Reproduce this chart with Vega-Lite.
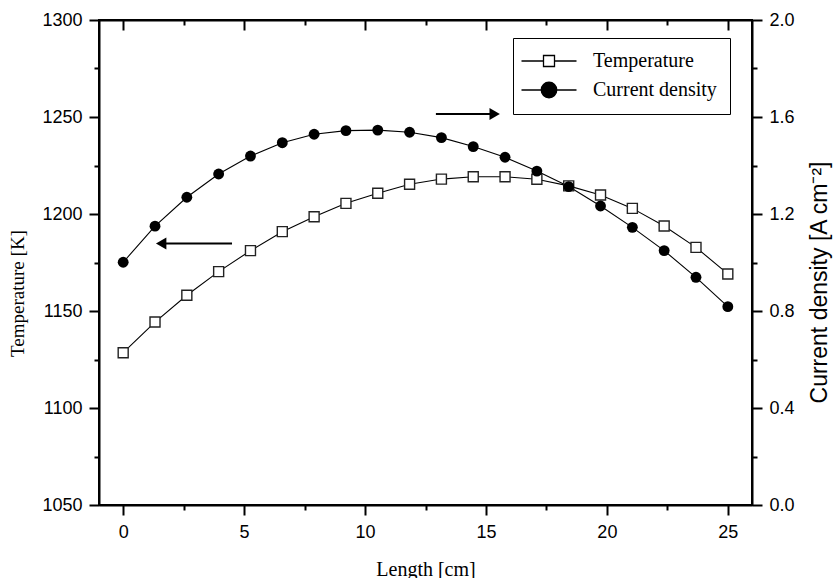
{
  "$schema": "https://vega.github.io/schema/vega-lite/v6.json",
  "width": 653,
  "height": 485,
  "autosize": {"type": "none"},
  "padding": {"left": 99, "top": 20, "right": 84, "bottom": 73},
  "background": "white",
  "config": {
    "view": {"stroke": "black", "strokeWidth": 2},
    "font": "Liberation Sans",
    "axis": {
      "grid": false,
      "domainColor": "black",
      "domainWidth": 2,
      "tickColor": "black",
      "tickWidth": 2,
      "labelColor": "black",
      "titleColor": "black",
      "labelFont": "Liberation Sans",
      "labelFontSize": 18,
      "titleFontWeight": "normal",
      "labelOverlap": false,
      "labelFlush": false
    }
  },
  "datasets": {
    "profile": [
      {"length": 0, "Temperature": 1128.5, "Current density": 1.001},
      {"length": 1.316, "Temperature": 1144.3, "Current density": 1.150},
      {"length": 2.632, "Temperature": 1158.1, "Current density": 1.269},
      {"length": 3.947, "Temperature": 1170.3, "Current density": 1.365},
      {"length": 5.263, "Temperature": 1181.1, "Current density": 1.439},
      {"length": 6.579, "Temperature": 1190.9, "Current density": 1.494},
      {"length": 7.895, "Temperature": 1198.6, "Current density": 1.529},
      {"length": 9.211, "Temperature": 1205.5, "Current density": 1.544},
      {"length": 10.526, "Temperature": 1210.7, "Current density": 1.546},
      {"length": 11.842, "Temperature": 1215.3, "Current density": 1.537},
      {"length": 13.158, "Temperature": 1218.0, "Current density": 1.515},
      {"length": 14.474, "Temperature": 1219.2, "Current density": 1.478},
      {"length": 15.789, "Temperature": 1219.2, "Current density": 1.434},
      {"length": 17.105, "Temperature": 1217.9, "Current density": 1.377},
      {"length": 18.421, "Temperature": 1214.5, "Current density": 1.313},
      {"length": 19.737, "Temperature": 1209.8, "Current density": 1.233},
      {"length": 21.053, "Temperature": 1202.9, "Current density": 1.145},
      {"length": 22.368, "Temperature": 1193.8, "Current density": 1.049},
      {"length": 23.684, "Temperature": 1182.8, "Current density": 0.939},
      {"length": 25, "Temperature": 1169.1, "Current density": 0.818}
    ],
    "arrows": [
      {"name": "left", "x_start": 4.5, "x_end": 1.57, "T": 1184.8},
      {"name": "right", "x_start": 12.93, "x_end": 15.36, "T": 1251.5}
    ]
  },
  "layer": [
    {
      "data": {"name": "profile"},
      "mark": {"type": "line", "color": "black", "strokeWidth": 1.1},
      "encoding": {
        "x": {
          "field": "length", "type": "quantitative",
          "scale": {"domain": [-1, 26], "nice": false, "zero": false},
          "axis": {
            "orient": "bottom",
            "values": [0, 2.5, 5, 7.5, 10, 12.5, 15, 17.5, 20, 22.5, 25],
            "tickSize": {"condition": {"test": "datum.value % 5 === 0", "value": 10}, "value": 5},
            "labelExpr": "datum.value % 5 === 0 ? datum.label : ''",
            "labelPadding": 8,
            "title": "Length [cm]",
            "titleFont": "Liberation Serif",
            "titleFontSize": 20,
            "titleY": 70,
            "titleBaseline": "alphabetic"
          }
        },
        "y": {
          "field": "Temperature", "type": "quantitative",
          "scale": {"domain": [1050, 1300], "nice": false, "zero": false},
          "axis": {
            "orient": "left",
            "values": [1050, 1075, 1100, 1125, 1150, 1175, 1200, 1225, 1250, 1275, 1300],
            "tickSize": {"condition": {"test": "datum.value % 50 === 0", "value": 10}, "value": 5},
            "labelExpr": "datum.value % 50 === 0 ? datum.label : ''",
            "format": "d",
            "labelPadding": 7,
            "title": "Temperature [K]",
            "titleFont": "Liberation Serif",
            "titleFontSize": 19,
            "titleAngle": 270,
            "titleX": -76,
            "titleY": 273,
            "titleAlign": "center",
            "titleBaseline": "alphabetic"
          }
        }
      }
    },
    {
      "data": {"name": "profile"},
      "mark": {"type": "line", "color": "black", "strokeWidth": 1.1},
      "encoding": {
        "x": {"field": "length", "type": "quantitative", "scale": {"domain": [-1, 26], "nice": false, "zero": false}, "axis": null},
        "y": {
          "field": "Current density", "type": "quantitative",
          "scale": {"domain": [0, 2], "nice": false, "zero": false},
          "axis": {
            "orient": "right",
            "values": [0, 0.2, 0.4, 0.6, 0.8, 1.0, 1.2, 1.4, 1.6, 1.8, 2.0],
            "tickSize": {"condition": {"test": "round(datum.value * 10) % 4 === 0", "value": 10}, "value": 5},
            "format": ".1f",
            "labelExpr": "round(datum.value * 10) % 4 === 0 ? datum.label : ''",
            "labelPadding": 7,
            "title": "Current density [A cm⁻²]",
            "titleFont": "Liberation Sans",
            "titleFontSize": 23,
            "titleAngle": 270,
            "titleX": 74,
            "titleY": 262,
            "titleAlign": "center",
            "titleBaseline": "alphabetic"
          }
        }
      }
    },
    {
      "data": {"name": "profile"},
      "mark": {"type": "point", "shape": "square", "filled": true, "fill": "white", "stroke": "#222222", "strokeWidth": 1.4, "size": 100, "opacity": 1},
      "encoding": {
        "x": {
          "field": "length", "type": "quantitative",
          "scale": {"domain": [-1, 26], "nice": false, "zero": false},
          "axis": {
            "orient": "top",
            "values": [0, 2.5, 5, 7.5, 10, 12.5, 15, 17.5, 20, 22.5, 25],
            "tickSize": {"condition": {"test": "datum.value % 5 === 0", "value": -10}, "value": -5},
            "labels": false,
            "title": null
          }
        },
        "y": {"field": "Temperature", "type": "quantitative", "scale": {"domain": [1050, 1300], "nice": false, "zero": false}, "axis": null}
      }
    },
    {
      "data": {"name": "profile"},
      "mark": {"type": "point", "shape": "circle", "filled": true, "fill": "black", "stroke": null, "size": 118, "opacity": 1},
      "encoding": {
        "x": {"field": "length", "type": "quantitative", "scale": {"domain": [-1, 26], "nice": false, "zero": false}, "axis": null},
        "y": {"field": "Current density", "type": "quantitative", "scale": {"domain": [0, 2], "nice": false, "zero": false}, "axis": null}
      }
    },
    {
      "data": {"name": "arrows"},
      "mark": {"type": "rule", "color": "black", "strokeWidth": 2},
      "encoding": {
        "x": {"field": "x_start", "type": "quantitative", "scale": {"domain": [-1, 26], "nice": false, "zero": false}, "axis": null},
        "x2": {"field": "x_end"},
        "y": {"field": "T", "type": "quantitative", "scale": {"domain": [1050, 1300], "nice": false, "zero": false}, "axis": null}
      }
    },
    {
      "data": {"name": "arrows"},
      "mark": {"type": "point", "filled": true, "fill": "black", "stroke": null, "size": 144, "opacity": 1},
      "encoding": {
        "x": {"field": "x_end", "type": "quantitative", "scale": {"domain": [-1, 26], "nice": false, "zero": false}, "axis": null},
        "y": {"field": "T", "type": "quantitative", "scale": {"domain": [1050, 1300], "nice": false, "zero": false}, "axis": null},
        "shape": {"condition": {"test": "datum.name === 'left'", "value": "triangle-left"}, "value": "triangle-right"}
      }
    },
    {
      "data": {"name": "profile"},
      "transform": [{"fold": ["Temperature", "Current density"], "as": ["series", "value"]}],
      "mark": {"type": "point", "filled": true, "stroke": "black", "strokeWidth": 1.3, "opacity": 0},
      "encoding": {
        "x": {"field": "length", "type": "quantitative", "scale": {"domain": [-1, 26], "nice": false, "zero": false}, "axis": null},
        "y": {"field": "value", "type": "quantitative", "scale": {"domain": [0, 3000], "nice": false, "zero": false}, "axis": null},
        "shape": {
          "field": "series", "type": "nominal",
          "scale": {
            "domain": ["Temperature", "Current density"],
            "range": [
              "M-5.5,0H-1.1M1.1,0H5.5M-1.1,-1.1H1.1V1.1H-1.1Z",
              "M-5.5,0H-1.55M1.55,0H5.5M1.55,0A1.55,1.55,0,1,1,-1.55,0A1.55,1.55,0,1,1,1.55,0Z"
            ]
          },
          "legend": {
            "orient": "none", "legendX": 414, "legendY": 18,
            "title": null, "strokeColor": "black", "padding": 13,
            "symbolSize": 100, "symbolOffset": 13, "labelOffset": 34,
            "symbolStrokeColor": "black", "symbolStrokeWidth": 1.3, "symbolOpacity": 1,
            "labelFont": "Liberation Serif", "labelFontSize": 20, "labelColor": "black",
            "rowPadding": 8, "labelLimit": 300,
            "encode": {"symbols": {"update": {"stroke": {"value": "black"}, "strokeWidth": {"value": 1.3}, "opacity": {"value": 1}, "strokeOpacity": {"value": 1}}}}
          }
        },
        "fill": {
          "field": "series", "type": "nominal",
          "scale": {"domain": ["Temperature", "Current density"], "range": ["white", "black"]},
          "legend": {
            "orient": "none", "legendX": 414, "legendY": 18,
            "title": null, "strokeColor": "black", "padding": 13,
            "symbolSize": 100, "symbolOffset": 13, "labelOffset": 34,
            "symbolStrokeColor": "black", "symbolStrokeWidth": 1.3, "symbolOpacity": 1,
            "labelFont": "Liberation Serif", "labelFontSize": 20, "labelColor": "black",
            "rowPadding": 8, "labelLimit": 300,
            "encode": {"symbols": {"update": {"stroke": {"value": "black"}, "strokeWidth": {"value": 1.3}, "opacity": {"value": 1}, "strokeOpacity": {"value": 1}}}}
          }
        }
      }
    }
  ],
  "resolve": {
    "scale": {"y": "independent"},
    "axis": {"x": "independent", "y": "independent"}
  }
}
